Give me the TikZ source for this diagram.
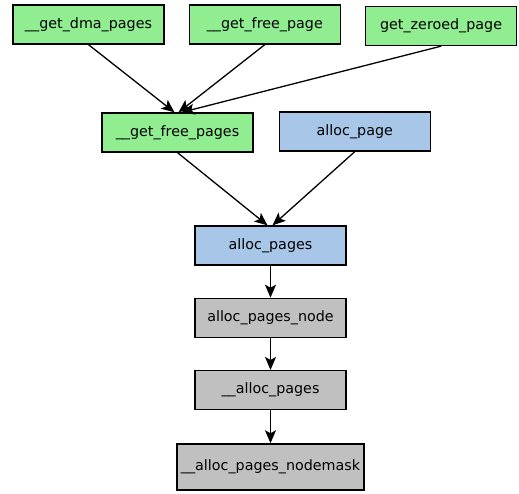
\documentclass[tikz,border=0pt]{standalone}
\usepackage{fontspec}
\setmainfont{DejaVu Sans}
\usetikzlibrary{positioning, arrows.meta}

\definecolor{fngreen}{RGB}{144,238,144}
\definecolor{fnblue}{RGB}{168,198,232}
\definecolor{fngray}{RGB}{192,192,192}

\tikzset{
  fn/.style={rectangle, draw, line width=1.3pt, minimum width=151pt, minimum height=39pt,
    inner sep=0pt, font=\fontsize{14.3}{16}\selectfont},
  call/.style={-{Stealth[length=13pt,width=11pt,inset=3pt]}, line width=1.3pt}
}

\begin{document}
\begin{tikzpicture}[x=1pt, y=-1pt]
\useasboundingbox (0,0) rectangle (519,493);
\node[fn, fill=fngreen] (dma) at (88.5,24.5) {\_\_get\_dma\_pages};
\node[fn, fill=fngreen, right=24pt of dma] (gfp) {\_\_get\_free\_page};
\node[fn, fill=fngreen, right=24pt of gfp, yshift=-1.5pt] (zeroed) {get\_zeroed\_page};
\node[fn, fill=fngreen] (gfps) at (177.5,132.5) {\_\_get\_free\_pages};
\node[fn, fill=fnblue, right=25pt of gfps, yshift=1pt] (apage) {alloc\_page};
\node[fn, fill=fnblue] (apages) at (270.5,245.5) {alloc\_pages};
\node[fn, fill=fngray, below=32pt of apages] (anode) {alloc\_pages\_node};
\node[fn, fill=fngray, below=32pt of anode] (uapages) {\_\_alloc\_pages};
\node[fn, fill=fngray, below=33pt of uapages, minimum width=187pt, minimum height=46pt] (mask) {\_\_alloc\_pages\_nodemask};
\draw[call] (dma.south) -- ([xshift=-3pt]gfps.north);
\draw[call] (gfp.south) -- ([xshift=1pt]gfps.north);
\draw[call] (zeroed.south) -- ([xshift=4pt]gfps.north);
\draw[call] (gfps.south) -- ([xshift=-3pt]apages.north);
\draw[call] (apage.south) -- ([xshift=2pt]apages.north);
\draw[call] (apages.south) -- (anode.north);
\draw[call] (anode.south) -- (uapages.north);
\draw[call] (uapages.south) -- (mask.north);
\end{tikzpicture}
\end{document}
